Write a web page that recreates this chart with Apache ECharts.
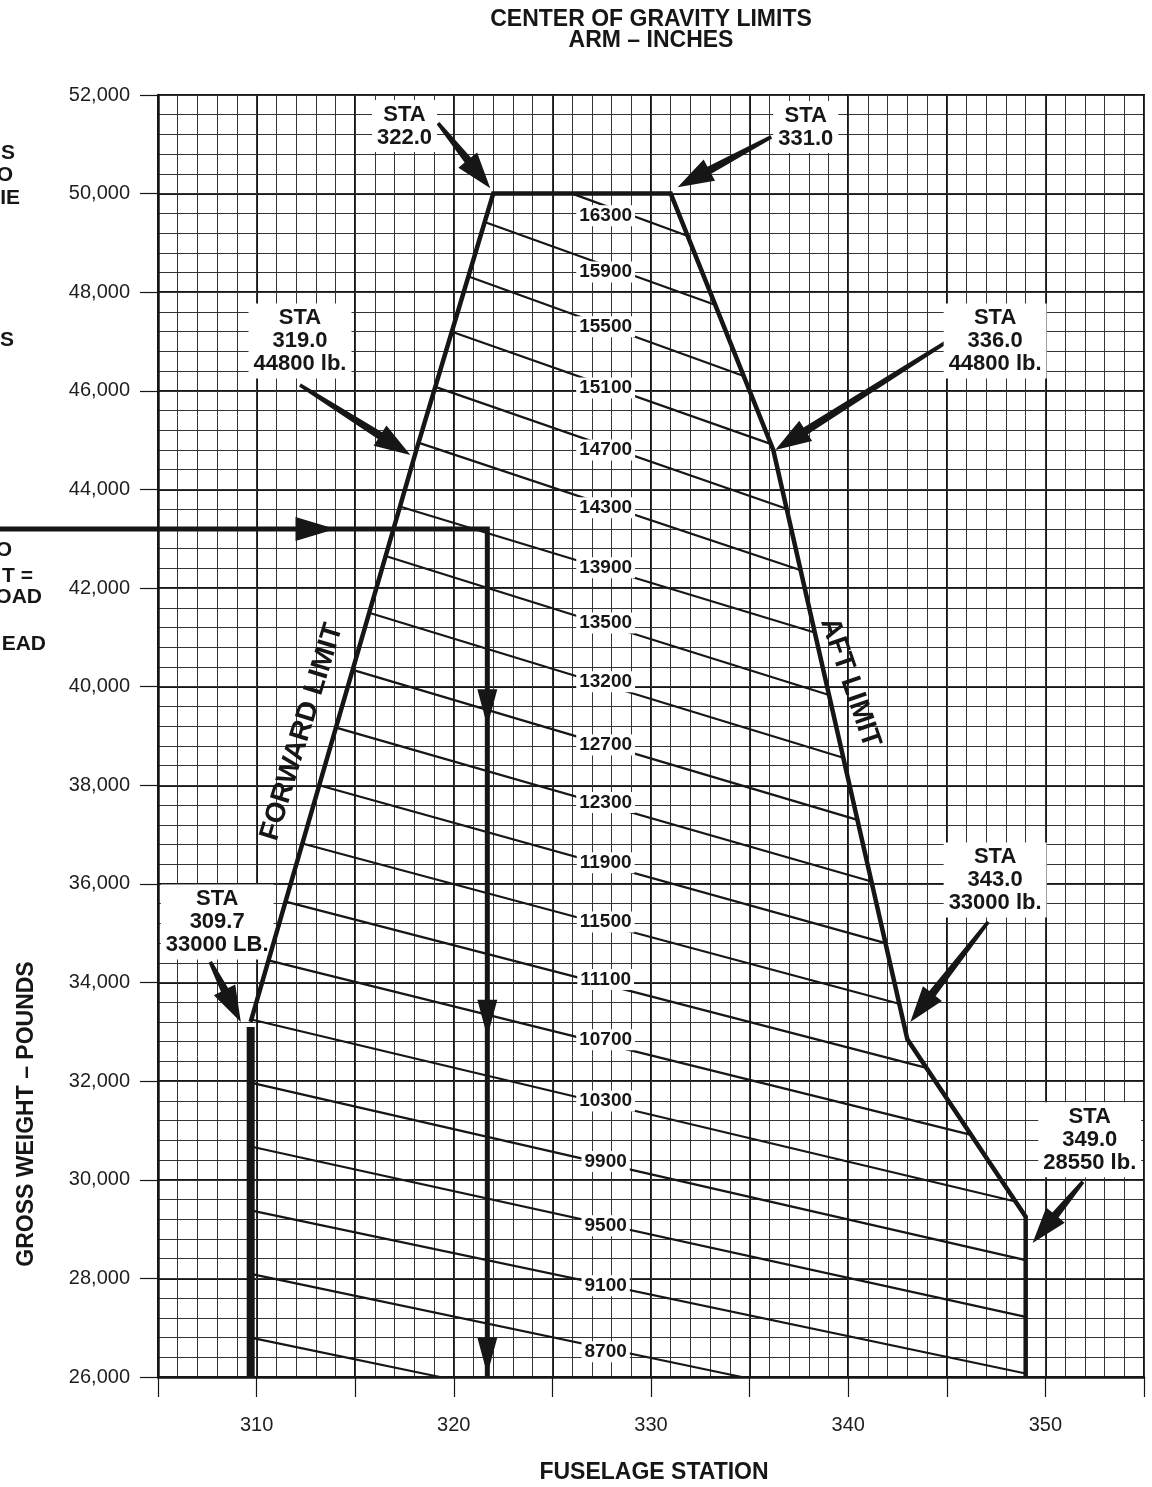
<!DOCTYPE html>
<html>
<head>
<meta charset="utf-8">
<title>Center of Gravity Limits</title>
<script src="https://cdn.jsdelivr.net/npm/echarts@6/dist/echarts.min.js"></script>
<style>
  html, body { margin: 0; padding: 0; background: #fff; }
  #chart { width: 1152px; height: 1487px; }
</style>
</head>
<body>
<div id="chart"></div>
<script>
// CG limits chart - fuselage station vs gross weight

const INK = '#161616'
const FONT = '"Liberation Sans", Arial, Helvetica, sans-serif'

// axis ranges
const armMin = 305, armMax = 355
const wtMin = 26000, wtMax = 52000

// CG envelope outline (station, lb)
const envArm = [309.7, 318.1, 322.0, 331.0, 336.2, 343.0, 349.0, 349.0]
const envWt = [33200, 44800, 50000, 50000, 44800, 32850, 29250, 26000]

// heavy forward limit bar
const barArm = [309.7, 309.7]
const barWt = [26000, 33100]

// loaded moment lines (start / end points)
const lineStartArm = [326.0, 321.6, 320.75, 319.9, 319.06, 318.2, 317.3, 316.54, 315.7, 314.87, 314.03, 313.17, 312.32, 311.47, 310.6, 309.74, 309.7, 309.7, 309.7, 309.7, 309.7]
const lineStartWt = [50000, 49420, 48320, 47200, 46080, 44950, 43650, 42650, 41500, 40340, 39170, 38000, 36820, 35640, 34450, 33250, 31970, 30675, 29380, 28090, 26800]
const lineEndArm = [331.8, 333.2, 334.7, 336.1, 336.8, 337.6, 338.3, 339.03, 339.75, 340.47, 341.18, 341.89, 342.58, 343.97, 346.23, 348.48, 349.0, 349.0, 349.0, 334.6, 319.3]
const lineEndWt = [49150, 47750, 46300, 44920, 43620, 42360, 41100, 39830, 38560, 37300, 36050, 34800, 33570, 32270, 30910, 29560, 28370, 27220, 26070, 26000, 26000]

// moment labels
const momentText = ['16300', '15900', '15500', '15100', '14700', '14300', '13900', '13500', '13200', '12700', '12300', '11900', '11500', '11100', '10700', '10300', '9900', '9500', '9100', '8700']
const momentLabelArm = 327.7
const momentLabelWt = [49550, 48410, 47300, 46060, 44800, 43630, 42410, 41290, 40100, 38820, 37650, 36430, 35230, 34060, 32840, 31600, 30370, 29070, 27850, 26510]

// station callouts
const calloutText = ['STA\n322.0', 'STA\n331.0', 'STA\n319.0\n44800 lb.', 'STA\n336.0\n44800 lb.', 'STA\n343.0\n33000 lb.', 'STA\n309.7\n33000 LB.', 'STA\n349.0\n28550 lb.']
const calloutArm = [317.5, 337.85, 312.2, 347.45, 347.45, 308.0, 352.25]
const calloutWt = [51370, 51350, 47010, 47010, 36080, 35230, 30810]

const arrowTailArm = [319.2, 336.1, 312.2, 345.3, 347.1, 307.65, 351.9]
const arrowTailWt = [51430, 51150, 46120, 47070, 35230, 34420, 29960]
const arrowTipArm = [321.85, 331.35, 317.8, 336.3, 343.15, 309.2, 349.35]
const arrowTipWt = [50110, 50130, 44700, 44800, 33200, 33200, 28720]

// worked example path
const pathArm = [296, 321.7, 321.7]
const pathWt = [43200, 43200, 26000]
const headArm = [314.0, 321.7, 321.7, 321.7]
const headWt = [43200, 39200, 32900, 26050]
const headDir = ['right', 'down', 'down', 'down']

const limitText = ['FORWARD LIMIT', 'AFT LIMIT']
const limitArm = [312.3, 340.1]
const limitWt = [39080, 40080]
const limitRotate = [73, -71]

function arrowPoints(p0, p1) {
  const dx = p1[0] - p0[0], dy = p1[1] - p0[1]
  const len = Math.hypot(dx, dy)
  const ux = dx / len, uy = dy / len, nx = -uy, ny = ux
  const head = 36, hw = 12, tw = 1.8, bw = 4
  const bx = p1[0] - ux * head, by = p1[1] - uy * head
  return [
    [p0[0] + nx * tw, p0[1] + ny * tw],
    [bx + nx * bw, by + ny * bw],
    [bx + nx * hw, by + ny * hw],
    [p1[0], p1[1]],
    [bx - nx * hw, by - ny * hw],
    [bx - nx * bw, by - ny * bw],
    [p0[0] - nx * tw, p0[1] - ny * tw]
  ]
}

function textSeries(name, z, rows, styleFn) {
  return {
    name,
    type: 'custom',
    z,
    clip: false,
    silent: true,
    data: rows,
    renderItem: (params, api) => {
      const p = api.coord([api.value(0), api.value(1)])
      return styleFn(params.dataIndex, p)
    }
  }
}

const myChart = echarts.init(document.getElementById('chart'), null, { renderer: 'canvas' })

const hdr = (text, x, y, size, rot) => ({
  type: 'text', x, y, rotation: rot || 0,
  style: { text, font: 'bold ' + size + 'px ' + FONT, fill: INK, textAlign: 'center', textVerticalAlign: 'middle' }
})
const frag = (text, x, y) => ({
  type: 'text', x, y,
  style: { text, font: 'bold 21px ' + FONT, fill: INK, textAlign: 'right', textVerticalAlign: 'middle' }
})

myChart.setOption({
  animation: false,
  backgroundColor: '#fff',
  grid: {
    left: 158,
    right: 8,
    top: 95,
    bottom: 110,
    containLabel: false,
    outerBoundsMode: 'none',
    show: true,
    borderColor: INK,
    borderWidth: 2
  },
  graphic: [
    hdr('CENTER OF GRAVITY LIMITS', 651, 20, 23),
    hdr('ARM – INCHES', 651, 41, 23),
    hdr('FUSELAGE STATION', 654, 1473, 23),
    hdr('GROSS WEIGHT – POUNDS', 27, 1114, 23, Math.PI / 2),
    // clipped notes on the left edge
    frag('S', 15, 153),
    frag('O', 13, 175),
    frag('IE', 20, 198),
    frag('S', 14, 340),
    frag('O', 12, 550),
    frag('T =', 33, 576),
    frag('OAD', 42, 597),
    frag('EAD', 46, 644)
  ],
  xAxis: [
    {
      type: 'value',
      min: armMin,
      max: armMax,
      interval: 5,
      position: 'bottom',
      axisLine: { show: true, onZero: false, lineStyle: { color: INK, width: 2.5 } },
      axisTick: { show: true, inside: false, length: 20, lineStyle: { color: INK, width: 1.2 } },
      axisLabel: {
        margin: 38,
        fontSize: 20,
        color: '#1e1e1e',
        fontFamily: FONT,
        formatter: v => (v % 10 === 0 ? String(v) : '')
      },
      splitLine: { show: true, lineStyle: { color: INK, width: 2 } }
    },
    {
      type: 'value',
      min: armMin,
      max: armMax,
      interval: 1,
      position: 'top',
      axisLine: { show: false },
      axisTick: { show: false },
      axisLabel: { show: false },
      splitLine: { show: true, lineStyle: { color: '#333', width: 1 } }
    }
  ],
  yAxis: [
    {
      type: 'value',
      min: wtMin,
      max: wtMax,
      interval: 2000,
      position: 'left',
      axisLine: { show: true, onZero: false, lineStyle: { color: INK, width: 2.5 } },
      axisTick: { show: true, inside: false, length: 18, lineStyle: { color: INK, width: 1.2 } },
      axisLabel: {
        margin: 28,
        fontSize: 20,
        color: '#1e1e1e',
        fontFamily: FONT,
        formatter: v => v.toLocaleString('en-US')
      },
      splitLine: { show: true, lineStyle: { color: INK, width: 2 } }
    },
    {
      type: 'value',
      min: wtMin,
      max: wtMax,
      interval: 400,
      position: 'right',
      axisLine: { show: false },
      axisTick: { show: false },
      axisLabel: { show: false },
      splitLine: { show: true, lineStyle: { color: '#333', width: 1 } }
    }
  ],
  series: [
    {
      name: 'moment lines',
      type: 'custom',
      z: 3,
      data: lineStartArm.map((a, i) => [a, lineStartWt[i], lineEndArm[i], lineEndWt[i]]),
      renderItem: (params, api) => {
        const p1 = api.coord([api.value(0), api.value(1)])
        const p2 = api.coord([api.value(2), api.value(3)])
        return {
          type: 'line',
          shape: { x1: p1[0], y1: p1[1], x2: p2[0], y2: p2[1] },
          style: { stroke: INK, lineWidth: 2.2 }
        }
      }
    },
    {
      name: 'envelope',
      type: 'line',
      z: 8,
      symbol: 'none',
      lineStyle: { color: INK, width: 4.5, join: 'miter' },
      data: envArm.map((a, i) => [a, envWt[i]])
    },
    {
      name: 'forward bar',
      type: 'line',
      z: 8,
      symbol: 'none',
      lineStyle: { color: INK, width: 8, cap: 'butt' },
      data: barArm.map((a, i) => [a, barWt[i]])
    },
    {
      name: 'example path',
      type: 'custom',
      z: 5,
      clip: false,
      data: [[pathArm[1], pathWt[1]]],
      renderItem: (params, api) => {
        const pts = pathArm.map((a, i) => api.coord([a, pathWt[i]]))
        const children = [{
          type: 'polyline',
          shape: { points: pts },
          style: { stroke: INK, lineWidth: 5, fill: null, lineJoin: 'miter' }
        }]
        headArm.forEach((a, i) => {
          const p = api.coord([a, headWt[i]])
          let tri
          if (headDir[i] === 'right') {
            tri = [[p[0], p[1]], [p[0] - 40, p[1] - 12], [p[0] - 40, p[1] + 12]]
          } else {
            tri = [[p[0], p[1]], [p[0] - 10, p[1] - 37], [p[0] + 10, p[1] - 37]]
          }
          children.push({ type: 'polygon', shape: { points: tri }, style: { fill: INK } })
        })
        return { type: 'group', children }
      }
    },
    {
      name: 'callout arrows',
      type: 'custom',
      z: 5,
      clip: false,
      data: arrowTailArm.map((a, i) => [a, arrowTailWt[i], arrowTipArm[i], arrowTipWt[i]]),
      renderItem: (params, api) => {
        const p0 = api.coord([api.value(0), api.value(1)])
        const p1 = api.coord([api.value(2), api.value(3)])
        return {
          type: 'polygon',
          shape: { points: arrowPoints(p0, p1) },
          style: { fill: INK }
        }
      }
    },
    textSeries('moment labels', 6, momentText.map((t, i) => [momentLabelArm, momentLabelWt[i]]), (i, p) => ({
      type: 'text',
      x: p[0],
      y: p[1],
      style: {
        text: momentText[i],
        fill: INK,
        font: 'bold 19px ' + FONT,
        align: 'center',
        verticalAlign: 'middle',
        backgroundColor: '#fff',
        padding: [1, 3]
      }
    })),
    textSeries('callouts', 7, calloutText.map((t, i) => [calloutArm[i], calloutWt[i]]), (i, p) => ({
      type: 'text',
      x: p[0],
      y: p[1],
      style: {
        text: calloutText[i],
        fill: INK,
        font: 'bold 22px ' + FONT,
        lineHeight: 23,
        align: 'center',
        verticalAlign: 'middle',
        backgroundColor: '#fff',
        padding: [3, 5]
      }
    })),
    textSeries('limit text', 7, limitText.map((t, i) => [limitArm[i], limitWt[i]]), (i, p) => ({
      type: 'text',
      x: p[0],
      y: p[1],
      rotation: limitRotate[i] * Math.PI / 180,
      style: {
        text: limitText[i],
        fill: INK,
        font: 'bold 28px ' + FONT,
        align: 'center',
        verticalAlign: 'middle'
      }
    }))
  ]
})
</script>
</body>
</html>
